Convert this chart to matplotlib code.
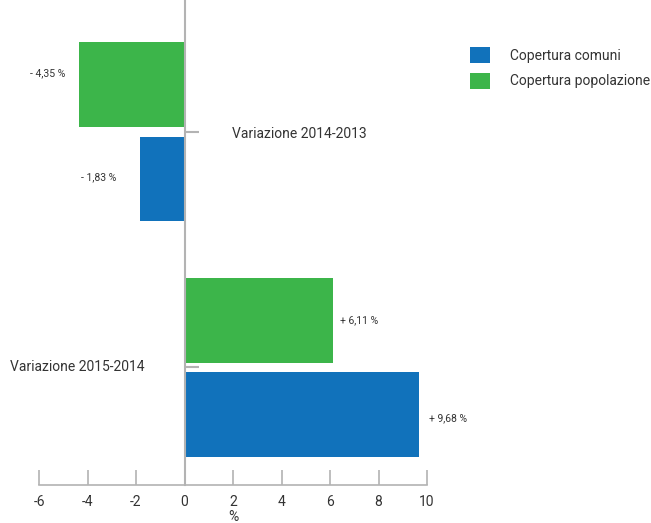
import matplotlib
matplotlib.use("Agg")
import matplotlib.pyplot as plt
import numpy as np

plt.rcParams['font.family'] = ["Roboto", "DejaVu Sans"]

categories = ["Variazione 2014-2013", "Variazione 2015-2014"]
comuni = [-1.83, 9.68]
popolazione = [-4.35, 6.11]
comuni_labels = ["- 1,83 %", "+ 9,68 %"]
popolazione_labels = ["- 4,35 %", "+ 6,11 %"]
xticks = [-6, -4, -2, 0, 2, 4, 6, 8, 10]

blue = "#1172bb"
green = "#3cb54a"
gray = "#b3b3b3"
txt = "#333333"

fig = plt.figure(figsize=(6.51, 5.23), dpi=100)
W, H = 651, 523
ax = fig.add_axes([39 / W, (H - 485) / H, (427 - 39) / W, 485 / H])

y = np.arange(len(categories))
h = 0.36
off = 0.2
ax.barh(y - off, popolazione, height=h, color=green, label="Copertura popolazione")
ax.barh(y + off, comuni, height=h, color=blue, label="Copertura comuni")

ax.set_xlim(-6, 10)
ax.set_ylim(1.5, -0.56)

for yy, v, lab in zip(y - off, popolazione, popolazione_labels):
    dx = -14 if v < 0 else 7
    dy = 12 if v < 0 else 0
    ax.annotate(lab, (v, yy), xytext=(dx, dy), textcoords="offset pixels",
                ha="right" if v < 0 else "left", va="center", fontsize=7.5, color=txt)
for yy, v, lab in zip(y + off, comuni, comuni_labels):
    dx = -24 if v < 0 else 10
    dy = 2 if v < 0 else -4
    ax.annotate(lab, (v, yy), xytext=(dx, dy), textcoords="offset pixels",
                ha="right" if v < 0 else "left", va="center", fontsize=7.5, color=txt)

for s in ["top", "right"]:
    ax.spines[s].set_visible(False)
ax.spines["left"].set_position(("data", 0))
ax.spines["left"].set_color(gray)
ax.spines["left"].set_linewidth(1.5)
ax.spines["bottom"].set_color(gray)
ax.spines["bottom"].set_linewidth(1.2)

ax.set_xticks(xticks)
ax.set_xticklabels([str(t) for t in xticks])
ax.tick_params(axis="x", direction="in", length=11, color=gray, width=1.2,
               labelsize=10, labelcolor=txt, pad=7)
ax.set_yticks(y)
ax.set_yticklabels([])
ax.tick_params(axis="y", direction="in", length=10, color=gray, width=1.5)
ax.set_xlabel("%", fontsize=10, color=txt, labelpad=1)

# category labels
ax.annotate(categories[0], (0, y[0]), xytext=(48, -2), textcoords="offset pixels",
            ha="left", va="center", fontsize=10, color=txt)
ax.annotate(categories[1], (0, y[1]), xytext=(-175, 0), textcoords="offset pixels",
            ha="left", va="center", fontsize=10, color=txt, annotation_clip=False)

handles, labels = ax.get_legend_handles_labels()
leg = fig.legend(handles[::-1], labels[::-1], loc="upper left", bbox_to_anchor=(470 / W, 1 - 47 / H),
                 frameon=False, fontsize=10, handlelength=1.45, handleheight=1.45,
                 handletextpad=1.4, labelspacing=0.65, borderpad=0, borderaxespad=0)
for t in leg.get_texts():
    t.set_color(txt)

fig.savefig("out.png", dpi=100)
